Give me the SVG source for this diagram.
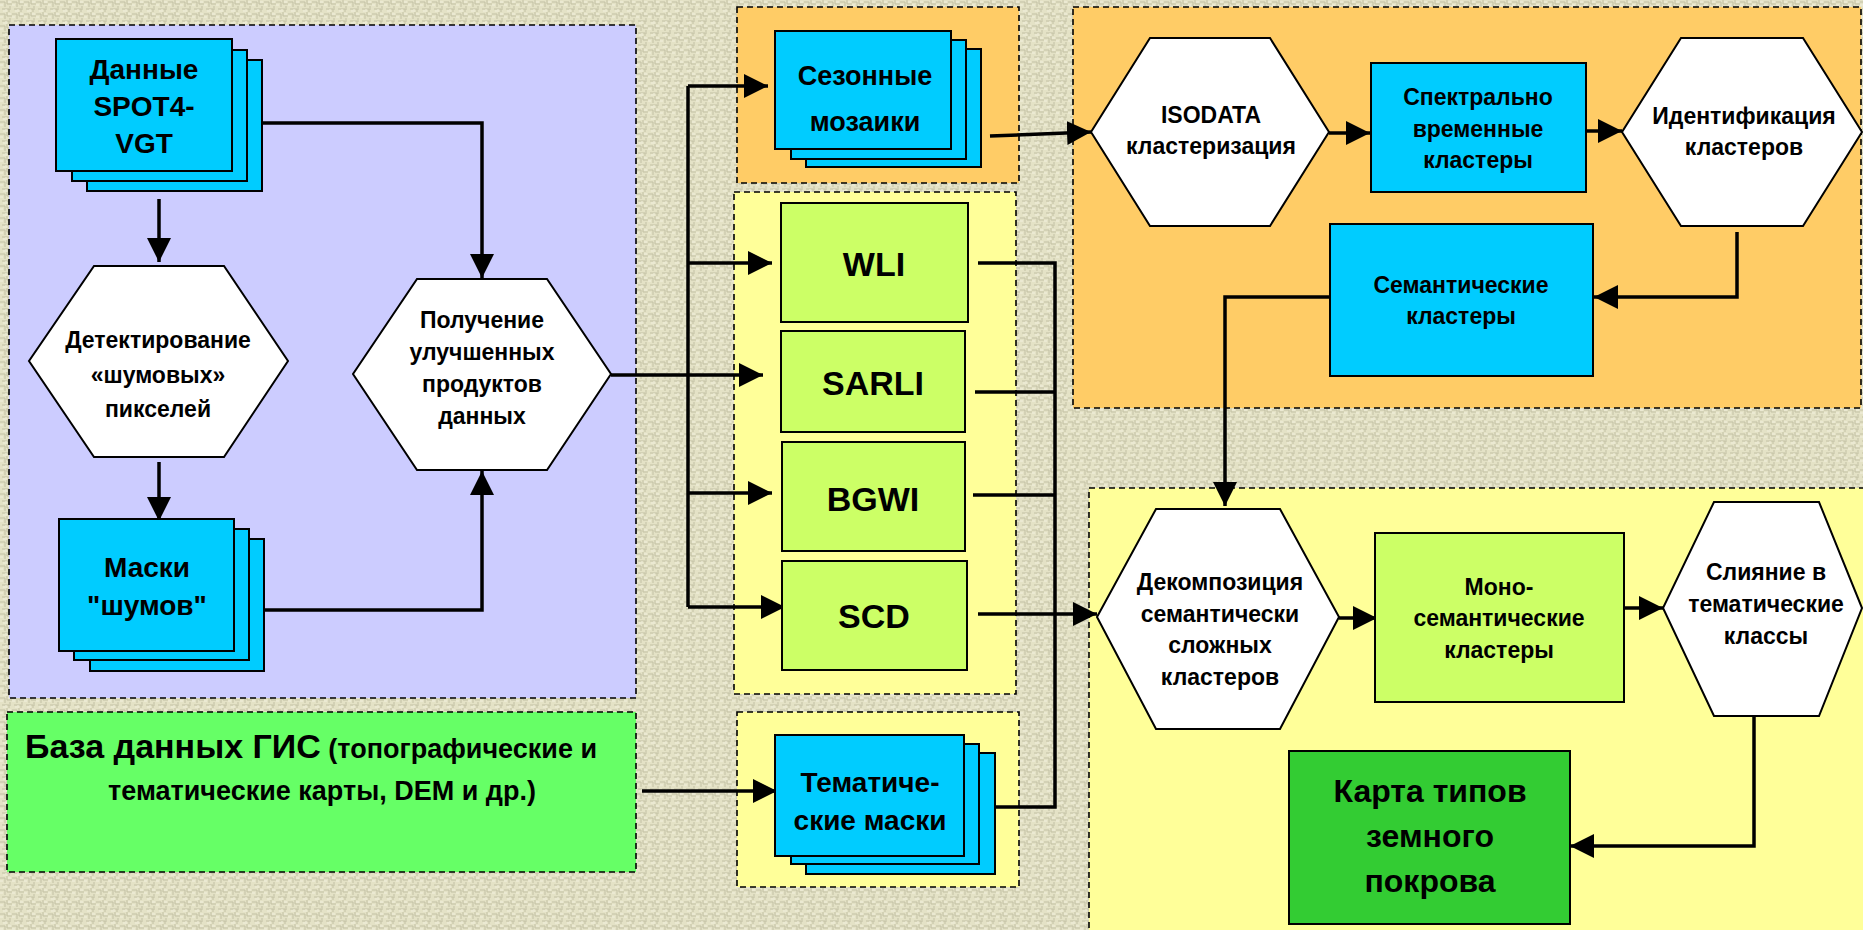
<svg xmlns="http://www.w3.org/2000/svg" width="1863" height="930" viewBox="0 0 1863 930">
<defs>
<pattern id="bg" x="0" y="0" width="12" height="12" patternUnits="userSpaceOnUse">
<rect width="12" height="12" fill="#E4E2C6"/>
<path d="M0,2 H5 V7 M7,0 V4 H12 M2,9 H9 V12 M10,6 V10" fill="none" stroke="#C3C1A4" stroke-width="1"/>
<path d="M0,5 H3 M6,9 V12 M8,2 H11 M3,11 H5" fill="none" stroke="#F3F1DE" stroke-width="1"/>
</pattern>
<marker id="ah" markerUnits="userSpaceOnUse" markerWidth="26" markerHeight="26" refX="24" refY="12" orient="auto">
<path d="M0,0 L24,12 L0,24 Z" fill="#000"/>
</marker>
</defs>
<style>
.panel{stroke:#000;stroke-width:1.6;stroke-dasharray:6 4}
.stack{fill:#00CCFF;stroke:#000;stroke-width:2}
.cyan{fill:#00CCFF;stroke:#000;stroke-width:2}
.lime{fill:#CCFF66;stroke:#000;stroke-width:2}
.hex{fill:#FFFFFF;stroke:#000;stroke-width:2}
.c{fill:none;stroke:#000;stroke-width:3.5}
text{font-family:"Liberation Sans",Arial,sans-serif;font-weight:bold;fill:#000;text-anchor:middle}
.t22{font-size:23px}
.t23{font-size:23px}
.t28{font-size:28px}
.t27{font-size:27px}
.t34{font-size:34px}
.t31{font-size:32px}
</style>
<rect width="1863" height="930" fill="url(#bg)"/>

<g id="panels">
<rect class="panel" x="9" y="25" width="627" height="673" fill="#CCCCFF"/>
<rect class="panel" x="7" y="712" width="629" height="160" fill="#66FF66"/>
<rect class="panel" x="737" y="7" width="282" height="176" fill="#FFCC66"/>
<rect class="panel" x="734" y="192" width="282" height="502" fill="#FFFF99"/>
<rect class="panel" x="737" y="712" width="282" height="175" fill="#FFFF99"/>
<rect class="panel" x="1073" y="7" width="788" height="401" fill="#FFCC66"/>
<rect class="panel" x="1089" y="488" width="800" height="460" fill="#FFFF99"/>
</g>

<g id="connectors">
<path class="c" d="M159,199 V262" marker-end="url(#ah)"/>
<path class="c" d="M262,123 H482 V278" marker-end="url(#ah)"/>
<path class="c" d="M159,462 V521" marker-end="url(#ah)"/>
<path class="c" d="M264,610 H482 V471" marker-end="url(#ah)"/>
<path class="c" d="M611,375 H763" marker-end="url(#ah)"/>
<path class="c" d="M688,86 V607"/>
<path class="c" d="M688,86 H768" marker-end="url(#ah)"/>
<path class="c" d="M688,263 H772" marker-end="url(#ah)"/>
<path class="c" d="M688,493 H772" marker-end="url(#ah)"/>
<path class="c" d="M688,607 H785" marker-end="url(#ah)"/>
<path class="c" d="M978,263 H1055 V807 H992"/>
<path class="c" d="M975,392 H1055"/>
<path class="c" d="M973,495 H1055"/>
<path class="c" d="M978,614 H1097" marker-end="url(#ah)"/>
<path class="c" d="M642,791 H777" marker-end="url(#ah)"/>
<path class="c" d="M990,136 L1091,132" marker-end="url(#ah)"/>
<path class="c" d="M1329,133 H1370" marker-end="url(#ah)"/>
<path class="c" d="M1586,131 H1622" marker-end="url(#ah)"/>
<path class="c" d="M1737,232 V297 H1594" marker-end="url(#ah)"/>
<path class="c" d="M1330,297 H1225 V506" marker-end="url(#ah)"/>
<path class="c" d="M1339,618 H1377" marker-end="url(#ah)"/>
<path class="c" d="M1624,608 H1663" marker-end="url(#ah)"/>
<path class="c" d="M1754,716 V846 H1570" marker-end="url(#ah)"/>
</g>

<g id="spot">
<rect class="stack" x="87" y="60" width="175" height="131"/>
<rect class="stack" x="72" y="50" width="175" height="131"/>
<rect class="stack" x="56" y="39" width="176" height="132"/>
<text class="t28" x="144" y="79">Данные</text>
<text class="t28" x="144" y="116">SPOT4-</text>
<text class="t28" x="144" y="153">VGT</text>
</g>

<g id="detect">
<polygon class="hex" points="94,266 224,266 288,361 224,457 94,457 29,361"/>
<text class="t23" x="158" y="348">Детектирование</text>
<text class="t23" x="158" y="383">«шумовых»</text>
<text class="t23" x="158" y="417">пикселей</text>
</g>

<g id="improve">
<polygon class="hex" points="417,279 547,279 611,374 547,470 417,470 353,374"/>
<text class="t23" x="482" y="328">Получение</text>
<text class="t23" x="482" y="360">улучшенных</text>
<text class="t23" x="482" y="392">продуктов</text>
<text class="t23" x="482" y="424">данных</text>
</g>

<g id="masks">
<rect class="stack" x="90" y="539" width="174" height="132"/>
<rect class="stack" x="74" y="529" width="175" height="131"/>
<rect class="stack" x="59" y="519" width="175" height="132"/>
<text class="t28" x="147" y="577">Маски</text>
<text class="t28" x="147" y="615">"шумов"</text>
</g>

<g id="gis">
<text x="25" y="758" style="text-anchor:start"><tspan style="font-size:34px">База данных ГИС</tspan><tspan style="font-size:27px"> (топографические и</tspan></text>
<text class="t27" x="322" y="800">тематические карты, DEM и др.)</text>
</g>

<g id="mosaics">
<rect class="stack" x="806" y="49" width="175" height="118"/>
<rect class="stack" x="791" y="40" width="175" height="119"/>
<rect class="stack" x="775" y="31" width="176" height="118"/>
<text class="t27" x="865" y="85">Сезонные</text>
<text class="t27" x="865" y="131">мозаики</text>
</g>

<g id="wli">
<rect class="lime" x="781" y="203" width="187" height="119"/>
<text class="t34" x="874" y="276">WLI</text>
</g>
<g id="sarli">
<rect class="lime" x="781" y="331" width="184" height="101"/>
<text class="t34" x="873" y="395">SARLI</text>
</g>
<g id="bgwi">
<rect class="lime" x="782" y="442" width="183" height="109"/>
<text class="t34" x="873" y="511">BGWI</text>
</g>
<g id="scd">
<rect class="lime" x="782" y="561" width="185" height="109"/>
<text class="t34" x="874" y="628">SCD</text>
</g>

<g id="thematic-masks">
<rect class="stack" x="806" y="753" width="189" height="121"/>
<rect class="stack" x="791" y="744" width="188" height="120"/>
<rect class="stack" x="775" y="735" width="189" height="121"/>
<text class="t28" x="870" y="792">Тематиче-</text>
<text class="t28" x="870" y="830">ские маски</text>
</g>

<g id="isodata">
<polygon class="hex" points="1150,38 1270,38 1329,132 1270,226 1150,226 1091,132"/>
<text class="t22" x="1211" y="123">ISODATA</text>
<text class="t22" x="1211" y="154">кластеризация</text>
</g>

<g id="spectral">
<rect class="cyan" x="1371" y="63" width="215" height="129"/>
<text class="t22" x="1478" y="105">Спектрально</text>
<text class="t22" x="1478" y="137">временные</text>
<text class="t22" x="1478" y="168">кластеры</text>
</g>

<g id="identify">
<polygon class="hex" points="1681,38 1803,38 1862,132 1803,226 1681,226 1622,132"/>
<text class="t22" x="1744" y="124">Идентификация</text>
<text class="t22" x="1744" y="155">кластеров</text>
</g>

<g id="semantic">
<rect class="cyan" x="1330" y="224" width="263" height="152"/>
<text class="t22" x="1461" y="293">Семантические</text>
<text class="t22" x="1461" y="324">кластеры</text>
</g>

<g id="decomp">
<polygon class="hex" points="1156,509 1280,509 1339,617 1280,729 1156,729 1097,617"/>
<text class="t22" x="1220" y="590">Декомпозиция</text>
<text class="t22" x="1220" y="622">семантически</text>
<text class="t22" x="1220" y="653">сложных</text>
<text class="t22" x="1220" y="685">кластеров</text>
</g>

<g id="mono">
<rect class="lime" x="1375" y="533" width="249" height="169"/>
<text class="t22" x="1499" y="595">Моно-</text>
<text class="t22" x="1499" y="626">семантические</text>
<text class="t22" x="1499" y="658">кластеры</text>
</g>

<g id="merge">
<polygon class="hex" points="1714,502 1819,502 1862,608 1819,716 1714,716 1663,608"/>
<text class="t22" x="1766" y="580">Слияние в</text>
<text class="t22" x="1766" y="612">тематические</text>
<text class="t22" x="1766" y="644">классы</text>
</g>

<g id="map">
<rect x="1289" y="751" width="281" height="173" fill="#33CC33" stroke="#000" stroke-width="2"/>
<text class="t31" x="1430" y="802">Карта типов</text>
<text class="t31" x="1430" y="847">земного</text>
<text class="t31" x="1430" y="892">покрова</text>
</g>
</svg>
